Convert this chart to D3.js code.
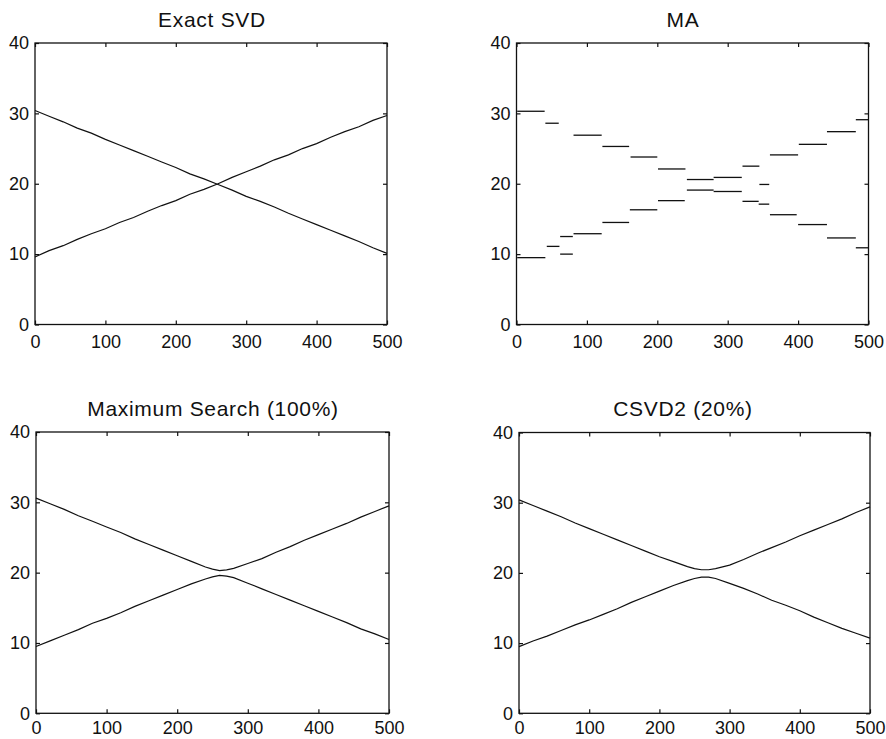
<!DOCTYPE html>
<html><head><meta charset="utf-8">
<script src="https://cdn.jsdelivr.net/npm/d3@7"></script>
<style>
body{margin:0;background:#fff;}
svg{display:block;}
.tick text{font-family:"Liberation Sans",Arial,Helvetica,sans-serif;font-size:18px;fill:#111;}
.title{font-family:"Liberation Sans",Arial,Helvetica,sans-serif;font-size:21px;letter-spacing:0.7px;fill:#111;}
</style></head>
<body>
<svg id="chart" width="886" height="739"></svg>
<script>
// ---- data ----
const xTicks = [0, 100, 200, 300, 400, 500];
const yTicks = [0, 10, 20, 30, 40];
const titles = ["Exact SVD", "MA", "Maximum Search (100%)", "CSVD2 (20%)"];

// Exact SVD
const svdX       = [0,20,40,60,80,100,120,140,160,180,200,220,240,260,280,300,320,340,360,380,400,420,440,460,480,500];
const svdRising  = [9.6,10.5,11.2,12.1,12.9,13.6,14.5,15.2,16.1,16.9,17.6,18.5,19.2,20.0,20.9,21.7,22.5,23.4,24.1,25.0,25.7,26.6,27.4,28.1,29.0,29.7];
const svdFalling = [30.4,29.6,28.8,27.9,27.2,26.3,25.5,24.7,23.9,23.1,22.3,21.4,20.7,19.9,19.1,18.2,17.5,16.7,15.8,15.0,14.2,13.4,12.6,11.8,10.9,10.1];

// MA (piecewise-constant segments)
const maUpX0 = [1, 41, 81, 122, 162, 201, 242, 280, 321, 345, 360, 401, 441, 482];
const maUpX1 = [40, 60, 121, 160, 200, 240, 280, 320, 345, 359, 400, 441, 482, 500];
const maUpY  = [30.3, 28.6, 26.9, 25.3, 23.8, 22.1, 20.6, 20.9, 22.5, 19.9, 24.1, 25.6, 27.4, 29.1];
const maLoX0 = [1, 43, 62, 62, 81, 122, 161, 201, 242, 280, 321, 344, 360, 400, 441, 482];
const maLoX1 = [41, 61, 80, 80, 121, 160, 200, 239, 280, 320, 344, 359, 398, 441, 482, 500];
const maLoY  = [9.5, 11.1, 10.0, 12.5, 12.9, 14.5, 16.3, 17.6, 19.1, 18.9, 17.5, 17.1, 15.6, 14.2, 12.3, 10.9];

// Maximum Search (100%)
const msX     = [0,20,40,60,80,100,120,140,160,180,200,220,240,250,260,270,280,300,320,340,360,380,400,420,440,460,480,500];
const msUpper = [30.6,29.8,29.0,28.1,27.3,26.5,25.7,24.8,24.0,23.2,22.4,21.6,20.8,20.5,20.3,20.4,20.6,21.3,22.0,22.9,23.7,24.6,25.4,26.2,27.0,27.9,28.7,29.5];
const msLower = [9.5,10.3,11.1,11.9,12.8,13.5,14.3,15.2,16.0,16.8,17.6,18.4,19.1,19.4,19.6,19.5,19.3,18.5,17.7,16.9,16.1,15.3,14.5,13.7,12.9,12.0,11.3,10.5];

// CSVD2 (20%)
const csX     = [0,20,40,60,80,100,120,140,160,180,200,220,240,250,260,270,280,300,320,340,360,380,400,420,440,460,480,500];
const csUpper = [30.4,29.6,28.8,28.0,27.1,26.3,25.5,24.7,23.9,23.1,22.3,21.6,20.9,20.6,20.45,20.45,20.6,21.1,21.9,22.8,23.6,24.4,25.3,26.1,26.9,27.7,28.6,29.4];
const csLower = [9.5,10.3,11.0,11.8,12.6,13.3,14.1,14.9,15.8,16.6,17.4,18.2,18.9,19.2,19.4,19.4,19.2,18.5,17.8,17.0,16.1,15.4,14.6,13.7,12.9,12.1,11.4,10.7];

// ---- layout ----
const panels = [
  {x0:35,  x1:387, y0:43,  y1:324.5, tx:212, ty:27, pad:11},
  {x0:516.5, x1:868.5, y0:43, y1:324.5, tx:683, ty:27, pad:11},
  {x0:36,  x1:389, y0:432, y1:713.3, tx:213, ty:416, pad:8},
  {x0:519, x1:870, y0:432.5, y1:713.3, tx:683, ty:416, pad:8}
];

const svg = d3.select("#chart");

function makePanel(i) {
  const p = panels[i];
  const x = d3.scaleLinear().domain([0, 500]).range([p.x0, p.x1]);
  const y = d3.scaleLinear().domain([0, 40]).range([p.y1, p.y0]);
  const g = svg.append("g");

  g.append("text").attr("class","title").attr("x", p.tx).attr("y", p.ty)
    .attr("text-anchor","middle").text(titles[i]);

  const bottom = g.append("g").attr("transform", `translate(0,${p.y1})`)
    .call(d3.axisBottom(x).tickValues(xTicks).tickSize(-4).tickSizeOuter(0).tickPadding(p.pad));
  const top = g.append("g").attr("transform", `translate(0,${p.y0})`)
    .call(d3.axisTop(x).tickValues(xTicks).tickSize(-4).tickSizeOuter(0).tickFormat(""));
  const left = g.append("g").attr("transform", `translate(${p.x0},0)`)
    .call(d3.axisLeft(y).tickValues(yTicks).tickSize(-4).tickSizeOuter(0).tickPadding(6));
  const right = g.append("g").attr("transform", `translate(${p.x1},0)`)
    .call(d3.axisRight(y).tickValues(yTicks).tickSize(-4).tickSizeOuter(0).tickFormat(""));
  [bottom, top, left, right].forEach(a => {
    a.select(".domain").remove();
    a.selectAll(".tick line").attr("stroke","#111").attr("stroke-width",1.2);
  });

  g.append("rect").attr("x", p.x0).attr("y", p.y0)
    .attr("width", p.x1 - p.x0).attr("height", p.y1 - p.y0)
    .attr("fill","none").attr("stroke","#111").attr("stroke-width",1.3);

  return {g, x, y};
}

function drawLines(panel, xs, series) {
  const line = d3.line().x((d, k) => panel.x(xs[k])).y(d => panel.y(d));
  series.forEach(s => {
    panel.g.append("path").datum(s).attr("d", line)
      .attr("fill","none").attr("stroke","#111").attr("stroke-width",1.2);
  });
}

function drawSegments(panel, x0s, x1s, ys) {
  panel.g.selectAll(null).data(ys).enter().append("line")
    .attr("x1", (d, k) => panel.x(x0s[k])).attr("x2", (d, k) => panel.x(x1s[k]))
    .attr("y1", d => panel.y(d)).attr("y2", d => panel.y(d))
    .attr("stroke","#111").attr("stroke-width",1.3);
}

const p0 = makePanel(0);
drawLines(p0, svdX, [svdRising, svdFalling]);

const p1 = makePanel(1);
drawSegments(p1, maUpX0, maUpX1, maUpY);
drawSegments(p1, maLoX0, maLoX1, maLoY);

const p2 = makePanel(2);
drawLines(p2, msX, [msUpper, msLower]);

const p3 = makePanel(3);
drawLines(p3, csX, [csUpper, csLower]);
</script>
</body></html>
